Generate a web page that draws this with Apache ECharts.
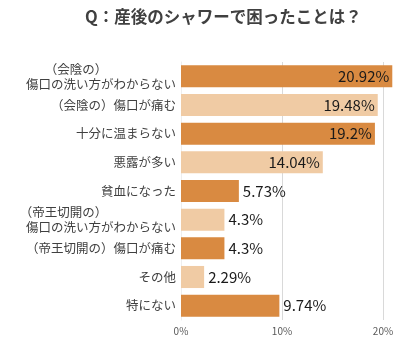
<!DOCTYPE html>
<html><head><meta charset="utf-8">
<script src="https://cdn.jsdelivr.net/npm/echarts@6/dist/echarts.min.js"></script>
<style>html,body{margin:0;padding:0;background:#fff}#c{width:415px;height:345px}</style>
</head><body><div id="c"></div>
<script>
const categories = [
  "（会陰の）　　　　　　\n傷口の洗い方がわからない",
  "（会陰の）傷口が痛む",
  "十分に温まらない",
  "悪露が多い",
  "貧血になった",
  "（帝王切開の）　　　　　　\n傷口の洗い方がわからない",
  "（帝王切開の）傷口が痛む",
  "その他",
  "特にない"
];
const values = [20.92, 19.48, 19.2, 14.04, 5.73, 4.3, 4.3, 2.29, 9.74];
const labelInside = [true, true, true, true, false, false, false, false, false];
const tickLabels = ["0%", "10%", "20%"];
const dark = "#D98A41", light = "#F0CBA4";

const chart = echarts.init(document.getElementById('c'));
chart.setOption({
  animation: false,
  title: {
    text: "Q：産後のシャワーで困ったことは？",
    left: 80, top: 3,
    textStyle: { fontSize: 16.5, fontWeight: 'bold', color: '#404040', fontFamily: 'Noto Sans CJK JP' }
  },
  grid: { left: 181, right: 32, top: 62, height: 258, containLabel: false },
  xAxis: {
    type: 'value', min: 0, max: 20, interval: 10,
    axisLine: { show: false }, axisTick: { show: false },
    splitLine: { show: true, lineStyle: { color: '#D9D9D9', width: 1 } },
    axisLabel: { formatter: v => tickLabels[v / 10], color: '#595959', fontSize: 10, fontFamily: 'Noto Sans CJK JP', margin: 6 }
  },
  yAxis: {
    type: 'category', inverse: true, data: categories,
    axisLine: { show: true, lineStyle: { color: '#EEEEEE' } }, axisTick: { show: false },
    axisLabel: { color: '#404040', fontSize: 12.5, fontFamily: 'Noto Sans CJK JP', margin: 5, lineHeight: 15, align: 'right' }
  },
  series: [{
    type: 'bar', clip: false, barCategoryGap: '23%',
    data: values.map((v, i) => ({
      value: v,
      itemStyle: { color: i % 2 === 0 ? dark : light },
      label: {
        show: true,
        position: labelInside[i] ? 'insideRight' : 'right',
        distance: labelInside[i] ? 3 : 4,
        formatter: v + '%',
        color: '#1a1a1a', fontSize: 15, fontFamily: 'Noto Sans CJK JP'
      }
    }))
  }]
});
</script></body></html>
